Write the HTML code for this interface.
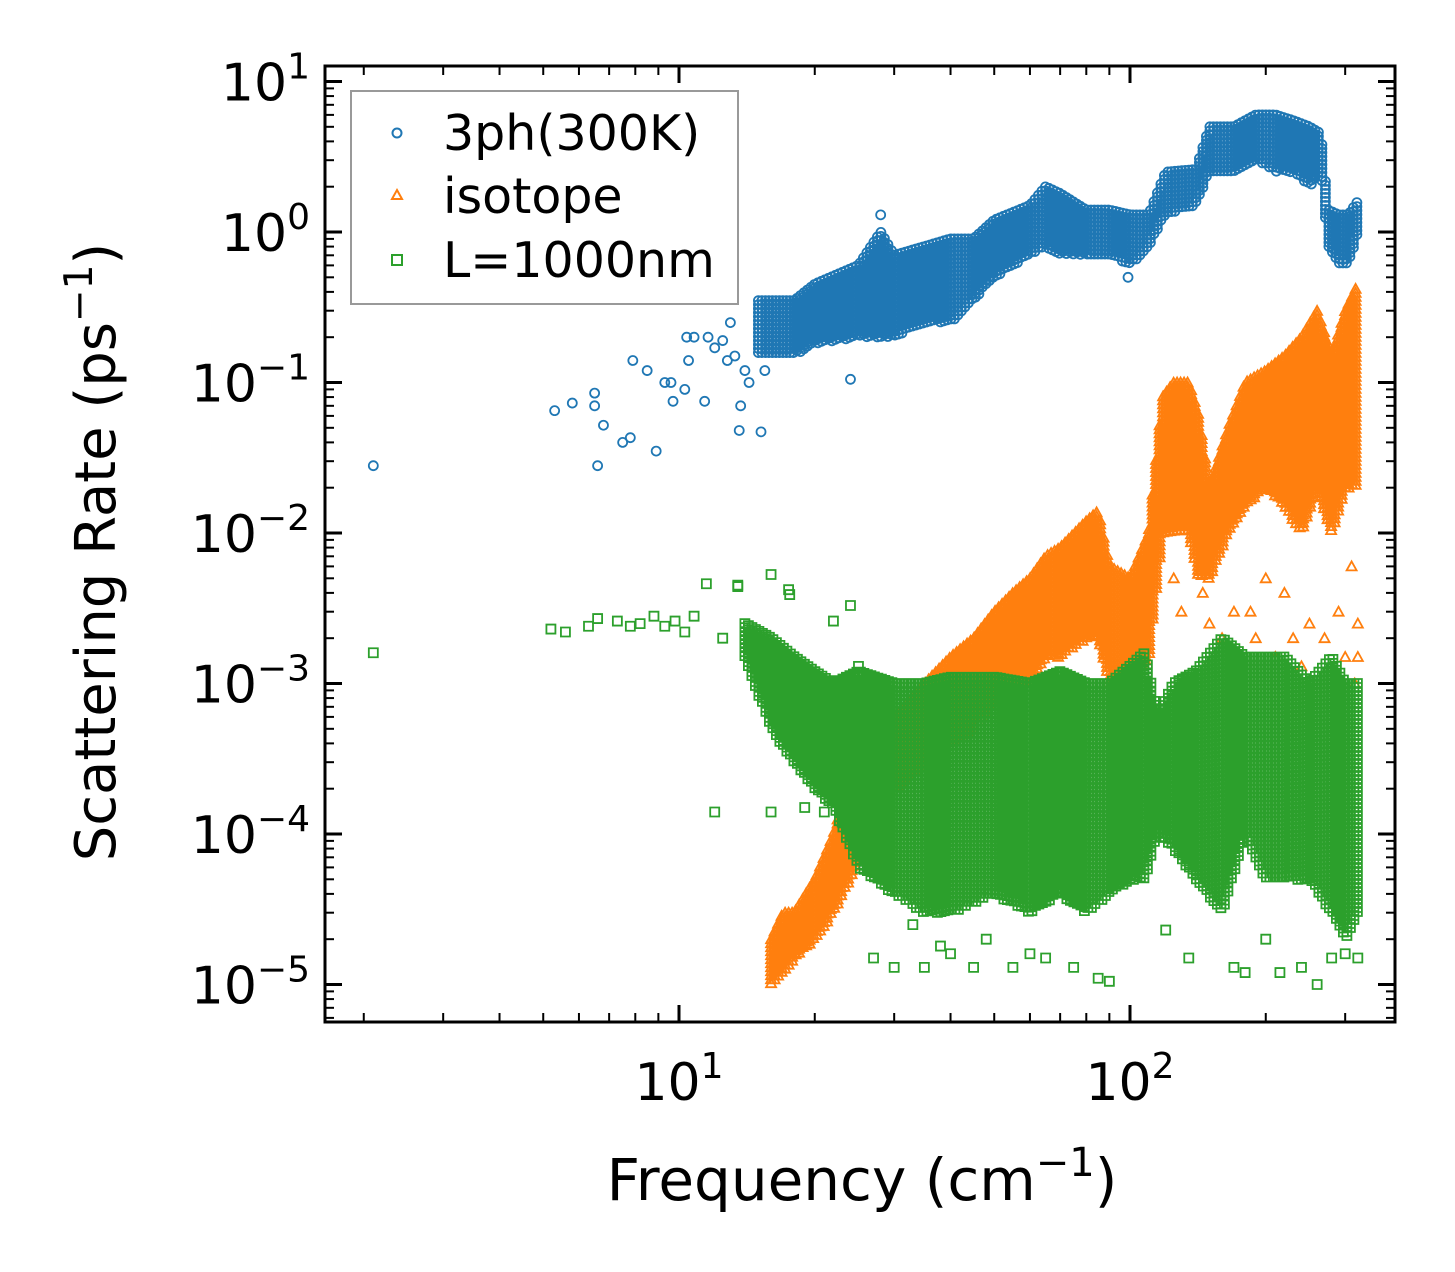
<!DOCTYPE html>
<html><head><meta charset="utf-8"><style>
body{margin:0;background:#fff;}
svg{display:block;font-family:"DejaVu Sans","Liberation Sans",sans-serif;}
</style></head><body>
<svg id="chart" width="1455" height="1272" viewBox="0 0 1455 1272" xmlns="http://www.w3.org/2000/svg">
<rect width="1455" height="1272" fill="#fff"/>
<g id="marks"></g>
<g id="axes"></g>
<g>
<rect x="351" y="91" width="387" height="213" fill="#fff" fill-opacity="0.8" stroke="#999" stroke-width="2"/>
<circle cx="397" cy="133" r="4.5" fill="none" stroke="#1f77b4" stroke-width="2"/>
<text x="443" y="150" font-size="49">3ph(300K)</text>
<polygon points="397,190 402,199 392,199" fill="none" stroke="#ff7f0e" stroke-width="2"/>
<text x="443" y="213" font-size="49">isotope</text>
<rect x="392" y="255" width="10" height="10" fill="none" stroke="#2ca02c" stroke-width="2"/>
<text x="443" y="277" font-size="49">L=1000nm</text>
</g>
<text x="862" y="1200" font-size="58" text-anchor="middle">Frequency (cm<tspan dy="-24" font-size="40">−1</tspan><tspan dy="24">)</tspan></text>
<text transform="translate(115,552) rotate(-90)" font-size="56" text-anchor="middle">Scattering Rate (ps<tspan dy="-23" font-size="39">−1</tspan><tspan dy="23">)</tspan></text>
</svg>
<script>
// ---- data ----
const blueBandFreq=[15,18,20,25,28,30,35,40,45,50,60,65,70,80,90,100,110,120,140,150,170,190,210,230,250,265,275,290,305,320];
const blueBandLow=[0.15,0.15,0.18,0.2,0.2,0.2,0.25,0.25,0.35,0.5,0.7,0.8,0.7,0.7,0.7,0.6,0.8,1.3,1.5,2.5,2.5,3,2.5,2.5,2,2.5,0.8,0.6,0.6,1.0];
const blueBandHigh=[0.35,0.35,0.45,0.6,1.0,0.7,0.8,0.9,0.9,1.2,1.5,2.0,1.8,1.4,1.4,1.3,1.3,2.5,2.6,5,5,6,6,5.5,5,4.5,1.4,1.3,1.3,1.6];
const blueSparseFreq=[2.1,5.3,5.8,6.5,6.5,6.6,6.8,7.5,7.8,7.9,8.5,8.9,9.3,9.6,9.7,10.3,10.4,10.5,10.8,11.4,11.6,12,12.5,12.8,13,13.3,13.6,13.7,14,14.3,15.2,15.5,24,28,99];
const blueSparseVal=[0.028,0.065,0.073,0.085,0.07,0.028,0.052,0.04,0.043,0.14,0.12,0.035,0.1,0.1,0.075,0.09,0.2,0.14,0.2,0.075,0.2,0.17,0.19,0.14,0.25,0.15,0.048,0.07,0.12,0.1,0.047,0.12,0.105,1.3,0.5];

const orangeBandFreq=[16,17,18,20,22,24,26,28,30,35,40,45,50,55,60,65,70,80,85,90,100,110,118,125,135,142,150,165,180,200,220,240,260,280,300,320];
const orangeBandLow=[1e-5,1.2e-5,1.5e-5,2e-5,3e-5,5e-5,1e-4,1.5e-4,2e-4,3e-4,4e-4,5e-4,8e-4,1e-3,1e-3,1.5e-3,1.5e-3,2e-3,2e-3,1e-3,1e-3,1.5e-3,1e-2,1e-2,1e-2,5e-3,5e-3,1e-2,1.5e-2,2e-2,1.5e-2,1e-2,2e-2,1e-2,2e-2,2e-2];
const orangeBandHigh=[2e-5,3e-5,3e-5,5e-5,1e-4,2.5e-4,6e-4,1e-3,6e-4,1e-3,1.5e-3,2e-3,3e-3,4e-3,5e-3,7e-3,8e-3,1.2e-2,1.4e-2,6e-3,5e-3,1e-2,8e-2,1e-1,1e-1,6e-2,2e-2,5e-2,1e-1,1.2e-1,1.5e-1,2e-1,3e-1,1.5e-1,3e-1,4.5e-1];
const orangeSparseFreq=[125,130,145,150,160,170,185,190,210,230,240,250,270,290,300,315,320,320,200,220,310];
const orangeSparseVal=[5e-3,3e-3,4e-3,2.5e-3,2e-3,3e-3,3e-3,2e-3,1.5e-3,2e-3,1.3e-3,2.5e-3,2e-3,3e-3,1.5e-3,1e-3,1.5e-3,2.5e-3,5e-3,4e-3,6e-3];

const greenBandFreq=[14,16,18,20,22,25,30,35,40,50,60,70,80,90,100,108,115,125,140,160,180,200,220,250,280,300,320];
const greenBandLow=[1.5e-3,5e-4,3e-4,2e-4,1.5e-4,6e-5,4e-5,3e-5,3e-5,4e-5,3e-5,4e-5,3e-5,4e-5,5e-5,5e-5,1e-4,8e-5,5e-5,3e-5,1e-4,5e-5,5e-5,5e-5,3e-5,2e-5,3e-5];
const greenBandHigh=[2.5e-3,2e-3,1.5e-3,1.2e-3,1e-3,1.2e-3,1e-3,1e-3,1.1e-3,1.1e-3,1e-3,1.2e-3,1e-3,1e-3,1.3e-3,1.6e-3,6e-4,1e-3,1.2e-3,2e-3,1.5e-3,1.5e-3,1.5e-3,1e-3,1.5e-3,1e-3,1e-3];
const greenSparseFreq=[2.1,5.2,5.6,6.3,6.6,7.3,7.8,8.2,8.8,9.3,9.8,10.3,10.8,11.5,12,12.5,13.5,13.5,16,17.5,17.6,22,24,25,27,30,33,35,38,40,45,48,55,60,65,75,85,90,120,135,170,180,200,215,240,260,280,300,320,16,19,21,23,26];
const greenSparseVal=[1.6e-3,2.3e-3,2.2e-3,2.4e-3,2.7e-3,2.6e-3,2.4e-3,2.5e-3,2.8e-3,2.4e-3,2.6e-3,2.2e-3,2.8e-3,4.6e-3,1.4e-4,2e-3,4.5e-3,4.4e-3,5.3e-3,4.2e-3,3.9e-3,2.6e-3,3.3e-3,1.3e-3,1.5e-5,1.3e-5,2.5e-5,1.3e-5,1.8e-5,1.6e-5,1.3e-5,2e-5,1.3e-5,1.6e-5,1.5e-5,1.3e-5,1.1e-5,1.05e-5,2.3e-5,1.5e-5,1.3e-5,1.2e-5,2e-5,1.2e-5,1.3e-5,1e-5,1.5e-5,1.6e-5,1.5e-5,1.4e-4,1.5e-4,1.4e-4,1.2e-4,1.1e-4];

const xTickVals=[10,100];
const yTickExps=[1,0,-1,-2,-3,-4,-5];

// ---- axes ----
const L=325,R=1395,T=66,B=1022;
const x=f=>679+(Math.log10(f)-1)*451;
const y=v=>232-Math.log10(v)*150.5;
const NS='http://www.w3.org/2000/svg';
const marks=document.getElementById('marks'), axes=document.getElementById('axes');
function mk(tag,attrs,parent){const e=document.createElementNS(NS,tag);for(const k in attrs)e.setAttribute(k,attrs[k]);parent.appendChild(e);return e;}

const styles={blue:{c:'#1f77b4'},orange:{c:'#ff7f0e'},green:{c:'#2ca02c'}};
function markerPath(kind,px,py){
  if(kind==='blue'){return `M${px-4.5},${py}a4.5,4.5 0 1,0 9,0a4.5,4.5 0 1,0 -9,0`;}
  if(kind==='orange'){return `M${px},${py-5}L${px+5},${py+4}L${px-5},${py+4}Z`;}
  return `M${px-4.5},${py-4.5}h9v9h-9Z`;
}
function drawSeries(kind,bf,bl,bh,sf,sv){
  const g=mk('g',{fill:'none',stroke:styles[kind].c,'stroke-width':'1.8'},marks);
  
  
  let d='';
  const x0=x(bf[0]),x1=x(bf[bf.length-1]);
  for(let px=x0;px<=x1;px+=3.5){
    let i=0;while(i<bf.length-2&&x(bf[i+1])<px)i++;
    const t=(px-x(bf[i]))/(x(bf[i+1])-x(bf[i]));
    const yl=y(bl[i])+(y(bl[i+1])-y(bl[i]))*t;
    const yh=y(bh[i])+(y(bh[i+1])-y(bh[i]))*t;
    for(let py=yh;py<=yl;py+=4) d+=markerPath(kind,+px.toFixed(1),+py.toFixed(1));
  }
  const band=mk('path',{d:d},g);
  
  
  sf.forEach((f,k)=>{
    const p=mk('path',{d:markerPath(kind,x(f),y(sv[k]))},g);
    
    
  });
}
drawSeries('blue',blueBandFreq,blueBandLow,blueBandHigh,blueSparseFreq,blueSparseVal);
drawSeries('orange',orangeBandFreq,orangeBandLow,orangeBandHigh,orangeSparseFreq,orangeSparseVal);
drawSeries('green',greenBandFreq,greenBandLow,greenBandHigh,greenSparseFreq,greenSparseVal);

// frame
const fr=mk('rect',{x:L,y:T,width:R-L,height:B-T,fill:'none',stroke:'#000','stroke-width':3},axes);


// x ticks
for(let dec=0;dec<=2;dec++){for(let m=1;m<=9;m++){
  const f=m*Math.pow(10,dec);const px=x(f);if(px<L||px>R)continue;
  const len=m===1?17:9;
  mk('line',{x1:px,y1:B,x2:px,y2:B-len,stroke:'#000','stroke-width':m===1?3:2},axes);
  mk('line',{x1:px,y1:T,x2:px,y2:T+len,stroke:'#000','stroke-width':m===1?3:2},axes);
}}
xTickVals.forEach(v=>{
  const t=mk('text',{x:x(v),y:1100,'font-size':52,'text-anchor':'middle'},axes);
  
  
  t.innerHTML=`10<tspan dy="-22" font-size="36">${Math.round(Math.log10(v))}</tspan>`;
});
// y ticks
for(let e=-6;e<=1;e++){for(let m=1;m<=9;m++){
  const py=y(m*Math.pow(10,e));if(py<T||py>B)continue;
  const len=m===1?17:9;
  mk('line',{x1:L,y1:py,x2:L+len,y2:py,stroke:'#000','stroke-width':m===1?3:2},axes);
  mk('line',{x1:R,y1:py,x2:R-len,y2:py,stroke:'#000','stroke-width':m===1?3:2},axes);
}}
yTickExps.forEach(e=>{
  const t=mk('text',{x:310,y:y(Math.pow(10,e))+19,'font-size':52,'text-anchor':'end'},axes);
  
  
  t.innerHTML=`10<tspan dy="-22" font-size="36">${e<0?'−'+(-e):e}</tspan>`;
});
</script>
</body></html>
